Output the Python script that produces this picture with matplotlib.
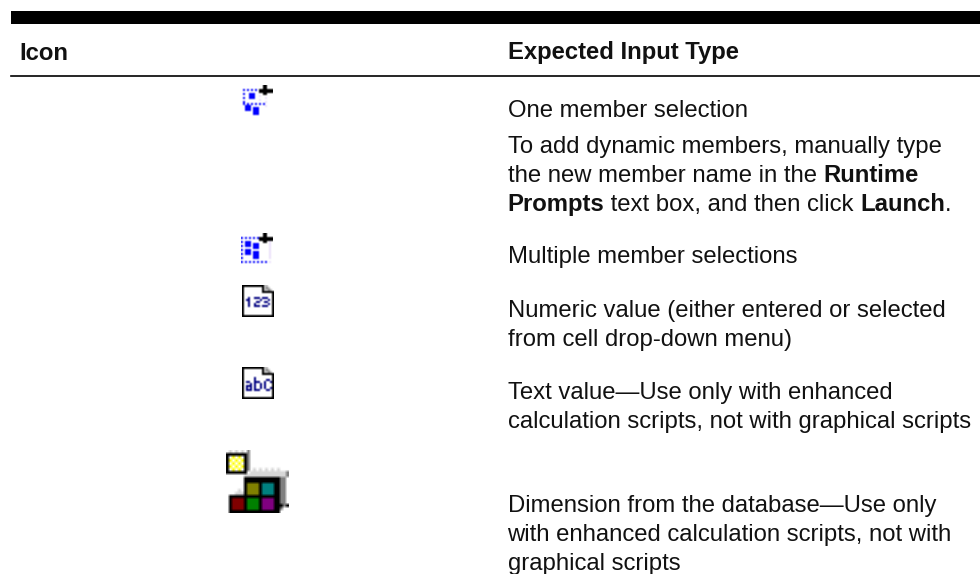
import matplotlib
matplotlib.use('Agg')
import matplotlib.pyplot as plt
import numpy as np

plt.rcParams['font.family'] = ['Liberation Sans', 'DejaVu Sans']

headers = ['Icon', 'Expected Input Type']

# each line is a list of (text, bold) runs
rows = [
    [[('One member selection', False)]],
    [[('To add dynamic members, manually type', False)],
     [('the new member name in the ', False), ('Runtime', True)],
     [('Prompts', True), (' text box, and then click ', False), ('Launch', True), ('.', False)]],
    [[('Multiple member selections', False)]],
    [[('Numeric value (either entered or selected', False)],
     [('from cell drop-down menu)', False)]],
    [[('Text value\u2014Use only with enhanced', False)],
     [('calculation scripts, not with graphical scripts', False)]],
    [[('Dimension from the database\u2014Use only', False)],
     [('with enhanced calculation scripts, not with', False)],
     [('graphical scripts', False)]],
]
row_y = [117, 153.5, 263, 317, 399, 512]

colors = {
    '.': (255, 255, 255), 'b': (0, 0, 255), 'k': (0, 0, 0), 'p': (235, 225, 250),
    'n': (0, 0, 128), 'g': (190, 190, 190), 'y': (255, 255, 0), 'o': (128, 128, 0),
    't': (0, 128, 128), 'm': (128, 0, 0), 'G': (0, 128, 0), 'u': (128, 0, 128),
    'd': (128, 128, 128), 'l': (215, 215, 215),
}

icon_one = [
    '...........kk...',
    '...........kk...',
    '.b.b.b.b.kkkkkkk',
    '.........kkkkkkk',
    '.b..bbb....kk...',
    '....bbb..p......',
    '.b..bbb.....p...',
    '.........p......',
    '.b..........p...',
    '.b.b.b.b.b.b....',
    '..bbb.......p...',
    '..bbb.bbb.......',
    '..bbb.bbb.......',
    '......bbb.......',
    '......bbb.......',
    '................',
]
icon_multi = [
    '...........kk...',
    '...........kk...',
    'b.b.b.b.bkkkkkkk',
    '.........kkkkkkk',
    'b.bbb......kk.p.',
    '..bbb.bbb.....p.',
    'b.bbb.bbb.....p.',
    '......bbb.....p.',
    'b.bbb.........p.',
    '..bbb.bbb.....p.',
    'b.bbb.bbb.....p.',
    '......bbb.....p.',
    'b.....bbb.....p.',
    '................',
    'b.b.b.b.b.b.b.p.',
    '................',
]
icon_num = [
    'kkkkkkkkkkkgg...',
    'k.........kgdg..',
    'k.........kggdg.',
    'k.........kkkkkk',
    'k..............k',
    'k..............k',
    'k..n..nnn.nnn..k',
    'k.nn.....n...n.k',
    'k..n...nn..nn..k',
    'k..n..n......n.k',
    'k..n..nnn.nnn..k',
    'k..............k',
    'k..............k',
    'k..............k',
    'k..............k',
    'kkkkkkkkkkkkkkkk',
]
icon_txt = [
    'kkkkkkkkkkkgg...',
    'k.........kgdg..',
    'k.........kggdg.',
    'k.........kkkkkk',
    'k..............k',
    'k.....n........k',
    'k.....n.....nn.k',
    'k.nn..nnn..n..nk',
    'k...n.n..n.n...k',
    'k.nnn.n..n.n...k',
    'k.n.n.n..n.n..nk',
    'k.nnn.nnn...nn.k',
    'k..............k',
    'k..............k',
    'k..............k',
    'kkkkkkkkkkkkkkkk',
]
icon_dim = [
    '.l.l.l.d.............',
    'kkkkkkkd.............',
    'k.y.y.kd.............',
    'ky.y.ykd.............',
    'k.y.y.kd.............',
    'ky.y.ykd.............',
    'k.y.y.kd.l.l.l.l.l...',
    'kkkkkkk.lllllllllllld',
    '......lllllllllllllld',
    '......kkkkkkkkkkkkdd.',
    '......kkkkkkkkkkkkdd.',
    '......kooookttttkkdd.',
    '......kooookttttkkdd.',
    '....l.kooookttttkkdd.',
    '...lllkooookttttkkdd.',
    '.kkkkkkkkkkkkkkkkkdd.',
    '.kmmmmkGGGGkuuuukkdd.',
    '.kmmmmkGGGGkuuuukkdd.',
    '.kmmmmkGGGGkuuuukkkdk',
    '.kmmmmkGGGGkuuuukkd..',
    '.kkkkkkkkkkkkkkkkk...',
]

icon_list = [icon_one, icon_multi, icon_num, icon_txt, icon_dim]
icon_pos = [(241, 85), (241, 233), (242, 285), (242, 367), (226, 450)]
icon_cell = [2, 2, 2, 2, 3]


def draw_icon(ax, grid, x0, y0, cell):
    img = np.array([[colors[c] for c in line] for line in grid], dtype=np.uint8)
    ax.imshow(img, extent=(x0, x0 + cell * img.shape[1], y0 + cell * img.shape[0], y0),
              interpolation='bilinear', zorder=2, aspect='auto')


def draw_runs(ax, x, y, runs):
    # bold runs need their own text objects, so step along using the rendered width
    r = ax.figure.canvas.get_renderer()
    inv = ax.transData.inverted()
    for s, bold in runs:
        t = ax.text(x, y, s, fontsize=17.2, color='#111111', va='baseline',
                    fontweight='bold' if bold else 'normal')
        bb = t.get_window_extent(r)
        x = inv.transform((bb.x1, bb.y0))[0]


fig = plt.figure(figsize=(9.8, 5.74), dpi=100)
ax = fig.add_axes([0, 0, 1, 1])

for grid, (ix, iy), c in zip(icon_list, icon_pos, icon_cell):
    draw_icon(ax, grid, ix, iy, c)

ax.set_xlim(0, 980)
ax.set_ylim(574, 0)
ax.axis('off')

ax.axhspan(11, 24, xmin=11 / 980, xmax=1, color='black', lw=0)
ax.plot([11, 980], [76, 76], color='black', lw=1.2)

ax.text(19, 59.5, headers[0], fontsize=17.2, fontweight='bold', color='#111111')
ax.text(507.5, 59.5, headers[1], fontsize=17.2, fontweight='bold', color='#111111')

for first, lines in zip(row_y, rows):
    for i, runs in enumerate(lines):
        draw_runs(ax, 507.5, first + i * 28.8, runs)

fig.savefig('out.png', dpi=100)
